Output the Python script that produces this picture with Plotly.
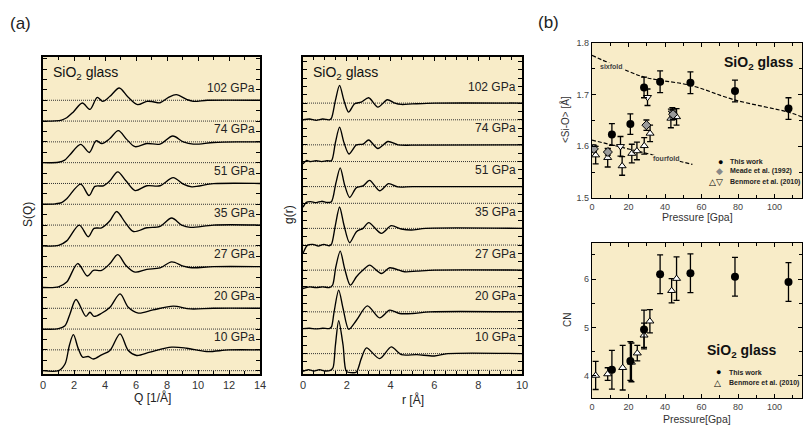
import plotly.graph_objects as go

# ---------------- data ----------------
pressures = ["10 GPa", "20 GPa", "27 GPa", "35 GPa", "51 GPa", "74 GPa", "102 GPa"]

# S(Q) curves (Q in 1/Å)
sq_q = {
    "10 GPa": [0, 1.0, 1.42, 1.7, 1.96, 2.28, 2.56, 2.92, 3.25, 3.78, 4.32, 4.97, 5.5, 6.04, 6.9, 8.3, 9.27, 10.56, 12, 14],
    "20 GPa": [0, 1.0, 1.42, 1.74, 2.13, 2.77, 3.03, 3.29, 3.78, 4.32, 4.97, 5.5, 6.15, 7.1, 8.4, 9.5, 11, 14],
    "27 GPa": [0, 1.0, 1.53, 2.24, 2.86, 3.25, 3.78, 4.32, 4.82, 5.35, 5.94, 6.7, 7.55, 8.3, 9.05, 9.6, 11, 14],
    "35 GPa": [0, 1.0, 1.53, 2.34, 2.92, 3.29, 3.78, 4.32, 4.75, 5.3, 5.83, 6.7, 7.55, 8.3, 8.95, 9.5, 11, 14],
    "51 GPa": [0, 0.8, 1.2, 1.53, 2.43, 2.97, 3.35, 3.9, 4.32, 4.82, 5.35, 5.94, 6.7, 7.55, 8.4, 9.05, 9.6, 11, 14],
    "74 GPa": [0, 1.0, 1.4, 1.74, 2.43, 2.99, 3.42, 3.8, 4.3, 4.86, 5.4, 5.94, 6.7, 7.55, 8.37, 9.05, 9.7, 11, 12.5, 14],
    "102 GPa": [0, 0.8, 1.2, 1.53, 1.96, 2.54, 3.03, 3.5, 3.85, 4.32, 4.92, 5.5, 6.1, 6.7, 7.1, 7.55, 8.1, 8.6, 9.3, 9.7, 10.6, 12, 14],
}
sq_s = {
    "10 GPa": [0, 0.0, 0.32, 1.21, 1.73, 1.05, 0.65, 0.68, 0.56, 0.76, 0.97, 1.77, 0.97, 0.73, 0.89, 1.13, 1.08, 0.92, 1.0, 1.0],
    "20 GPa": [0, 0.02, 0.16, 0.73, 1.42, 0.61, 0.81, 0.61, 0.76, 1.05, 1.69, 1.05, 0.77, 0.92, 1.10, 0.97, 1.0, 1.0],
    "27 GPa": [0, 0.03, 0.26, 1.15, 0.55, 0.82, 0.82, 1.15, 1.58, 1.06, 0.74, 0.87, 0.94, 1.23, 1.03, 0.95, 1.0, 1.0],
    "35 GPa": [0, 0.02, 0.24, 1.0, 0.44, 0.84, 0.87, 1.21, 1.65, 1.13, 0.69, 0.87, 0.94, 1.34, 1.0, 0.89, 1.0, 1.0],
    "51 GPa": [0, 0.02, 0.08, 0.27, 0.97, 0.42, 0.86, 0.89, 1.13, 1.56, 1.13, 0.66, 0.89, 0.89, 1.28, 0.97, 0.84, 0.99, 1.0],
    "74 GPa": [0, 0.02, 0.12, 0.38, 0.88, 0.49, 1.05, 0.92, 1.15, 1.54, 1.12, 0.77, 0.92, 0.89, 1.28, 1.0, 0.89, 0.97, 1.0, 1.0],
    "102 GPa": [0, 0.01, 0.05, 0.16, 0.44, 0.87, 0.56, 1.14, 0.95, 1.19, 1.59, 1.14, 0.79, 0.95, 0.93, 0.88, 1.14, 1.27, 1.03, 0.95, 1.0, 1.01, 1.0],
}

# g(r) curves (r in Å)
gr_r = {
    "10 GPa": [0, 0.25, 0.5, 0.75, 1.0, 1.25, 1.37, 1.48, 1.63, 1.83, 1.98, 2.2, 2.44, 2.66, 2.9, 3.5, 4.03, 4.49, 5.2, 6.0, 6.6, 10],
    "20 GPa": [0, 0.3, 0.6, 0.9, 1.2, 1.3, 1.42, 1.63, 1.83, 2.09, 2.44, 2.94, 3.5, 3.96, 4.41, 5.0, 5.8, 10],
    "27 GPa": [0, 0.3, 0.6, 0.9, 1.2, 1.35, 1.5, 1.7, 1.9, 2.16, 2.44, 2.74, 3.04, 3.58, 3.96, 4.64, 5.2, 6.0, 10],
    "35 GPa": [0, 0.2, 0.45, 0.7, 0.95, 1.2, 1.3, 1.48, 1.67, 1.87, 2.13, 2.44, 2.74, 3.0, 3.58, 4.03, 4.49, 4.95, 5.6, 10],
    "51 GPa": [0, 0.15, 0.35, 0.6, 0.85, 1.1, 1.3, 1.5, 1.7, 1.9, 2.13, 2.44, 2.74, 3.04, 3.5, 3.91, 4.34, 5.0, 10],
    "74 GPa": [0, 0.15, 0.35, 0.6, 0.85, 1.1, 1.3, 1.48, 1.67, 1.87, 2.1, 2.44, 2.74, 3.0, 3.42, 3.88, 4.34, 5.0, 10],
    "102 GPa": [0, 0.3, 0.6, 0.9, 1.2, 1.3, 1.48, 1.67, 1.87, 2.08, 2.36, 2.66, 3.0, 3.42, 3.85, 4.19, 4.49, 5.0, 6.0, 10],
}
gr_g = {
    "10 GPa": [-0.06, 0.04, -0.04, 0.04, -0.04, 0.0, 0.15, 1.5, 2.97, 1.5, -0.06, -0.14, -0.1, 0.7, 1.34, 0.7, 1.4, 0.94, 0.94, 0.86, 1.0, 1.0],
    "20 GPa": [0, 0.02, -0.02, 0.02, 0.0, 0.1, 1.0, 2.3, 1.2, -0.04, 0.5, 1.36, 0.64, 1.1, 0.9, 0.9, 1.0, 1.0],
    "27 GPa": [-0.1, 0.0, -0.05, 0.0, -0.05, 0.1, 1.2, 2.14, 1.1, 0.1, 0.6, 1.0, 1.3, 0.8, 1.14, 0.9, 0.94, 1.0, 1.0],
    "35 GPa": [-0.5, -0.02, 0.04, -0.06, 0.04, -0.04, 0.05, 1.2, 2.28, 1.2, 0.14, 0.8, 1.0, 1.34, 0.7, 1.16, 0.96, 0.9, 1.0, 1.0],
    "51 GPa": [-0.24, 0.06, 0.1, 0.04, 0.12, 0.05, 0.1, 1.2, 2.12, 1.1, 0.35, 0.94, 1.04, 1.37, 0.75, 1.18, 0.98, 1.0, 1.0],
    "74 GPa": [-0.14, 0.06, 0.0, 0.05, 0.0, 0.05, 0.05, 1.14, 2.06, 1.14, 0.45, 1.0, 1.04, 1.29, 0.78, 1.2, 1.0, 0.98, 1.0],
    "102 GPa": [0, 0.05, -0.03, 0.05, 0.0, 0.1, 1.16, 2.06, 1.16, 0.46, 0.96, 1.06, 1.32, 0.76, 1.2, 1.0, 0.92, 0.95, 1.0, 1.0],
}
sq_offset_step = 2.0
gr_offset_step = 2.5

# <Si-O> vs pressure
this_p = [10.9, 21.0, 28.5, 37.3, 53.9, 78.3, 107.6]
this_sio = [1.623, 1.643, 1.714, 1.725, 1.723, 1.707, 1.673]
this_sio_err = [0.021, 0.02, 0.02, 0.021, 0.021, 0.021, 0.021]
meade_p = [1.0, 8.7, 29.8, 44.4]
meade_sio = [1.595, 1.589, 1.641, 1.662]
meade_err = [0.006, 0.006, 0.01, 0.01]
benm_up_p = [2.0, 8.6, 16.5, 21.8, 24.6, 28.6, 31.8, 43.2, 46.3]
benm_up_sio = [1.583, 1.578, 1.562, 1.586, 1.591, 1.601, 1.625, 1.654, 1.657]
benm_up_err = [0.017, 0.018, 0.018, 0.018, 0.017, 0.016, 0.016, 0.018, 0.016]
benm_dn_p = [0.8, 15.6, 30.4, 44.0]
benm_dn_sio = [1.597, 1.600, 1.695, 1.665]
benm_dn_err = [0.006, 0.019, 0.016, 0.01]
sixfold_p = [0, 20, 28.5, 37, 54, 78, 107.6, 115]
sixfold_sio = [1.776, 1.745, 1.734, 1.728, 1.718, 1.690, 1.666, 1.657]
fourfold_p = [0, 55]
fourfold_sio = [1.612, 1.565]

# CN vs pressure
this_cn = [4.13, 4.31, 4.96, 6.10, 6.12, 6.05, 5.94]
this_cn_err = [0.4, 0.4, 0.4, 0.4, 0.4, 0.4, 0.4]
benm_cn_p = [2.0, 8.6, 16.8, 21.6, 24.8, 28.5, 31.7, 43.6, 46.3]
benm_cn = [4.01, 4.04, 4.17, 4.28, 4.47, 4.84, 5.13, 5.76, 6.01]
benm_cn_err = [0.29, 0.13, 0.46, 0.4, 0.16, 0.25, 0.24, 0.25, 0.45]

# ---------------- figure ----------------
BG = "#F8ECC8"
FONT = "Arial, Liberation Sans, Helvetica, sans-serif"
W, H = 805, 427

def dx(a, b):
    return [a / W, b / W]

def dy(top, bottom):
    return [(H - bottom) / H, (H - top) / H]

fig = go.Figure()

DOT = dict(color="#333", width=1, dash="1px,1px")
# left panel: S(Q)
for i, p in enumerate(pressures):
    off = i * sq_offset_step
    for lvl in (0, 1):
        fig.add_trace(go.Scatter(x=[0, 14], y=[off + lvl, off + lvl], mode="lines", line=DOT,
                                 xaxis="x", yaxis="y", showlegend=False, hoverinfo="skip"))
    fig.add_trace(go.Scatter(x=sq_q[p], y=[v + off for v in sq_s[p]], mode="lines",
                             line=dict(color="black", width=1.35, shape="spline", smoothing=0.9),
                             xaxis="x", yaxis="y", showlegend=False))
# middle panel: g(r)
for i, p in enumerate(pressures):
    off = i * gr_offset_step
    for lvl in (0, 1):
        fig.add_trace(go.Scatter(x=[0, 10], y=[off + lvl, off + lvl], mode="lines", line=DOT,
                                 xaxis="x2", yaxis="y2", showlegend=False, hoverinfo="skip"))
    fig.add_trace(go.Scatter(x=gr_r[p], y=[v + off for v in gr_g[p]], mode="lines",
                             line=dict(color="black", width=1.35, shape="spline", smoothing=0.8),
                             xaxis="x2", yaxis="y2", showlegend=False))

# top right: <Si-O>
fig.add_trace(go.Scatter(x=sixfold_p, y=sixfold_sio, mode="lines",
                         line=dict(color="black", width=1.2, dash="4px,2px", shape="spline"),
                         xaxis="x3", yaxis="y3", showlegend=False))
fig.add_trace(go.Scatter(x=fourfold_p, y=fourfold_sio, mode="lines",
                         line=dict(color="black", width=1.2, dash="4px,2px"),
                         xaxis="x3", yaxis="y3", showlegend=False))
errstyle = dict(type="data", color="black", thickness=1.3, width=3)
fig.add_trace(go.Scatter(x=benm_up_p, y=benm_up_sio, mode="markers",
                         error_y=dict(array=benm_up_err, **errstyle),
                         marker=dict(symbol="triangle-up", size=7, color="white", line=dict(color="black", width=1)),
                         xaxis="x3", yaxis="y3", showlegend=False))
fig.add_trace(go.Scatter(x=benm_dn_p, y=benm_dn_sio, mode="markers",
                         error_y=dict(array=benm_dn_err, **errstyle),
                         marker=dict(symbol="triangle-down", size=7, color="white", line=dict(color="black", width=1)),
                         xaxis="x3", yaxis="y3", showlegend=False))
fig.add_trace(go.Scatter(x=meade_p, y=meade_sio, mode="markers",
                         error_y=dict(array=meade_err, **errstyle),
                         marker=dict(symbol="diamond", size=7, color="#9a9a9a", line=dict(color="black", width=1)),
                         xaxis="x3", yaxis="y3", showlegend=False))
fig.add_trace(go.Scatter(x=this_p, y=this_sio, mode="markers",
                         error_y=dict(array=this_sio_err, **errstyle),
                         marker=dict(symbol="circle", size=8, color="black"),
                         xaxis="x3", yaxis="y3", showlegend=False))

# bottom right: CN
fig.add_trace(go.Scatter(x=benm_cn_p, y=benm_cn, mode="markers",
                         error_y=dict(array=benm_cn_err, **errstyle),
                         marker=dict(symbol="triangle-up", size=7, color="white", line=dict(color="black", width=1)),
                         xaxis="x4", yaxis="y4", showlegend=False))
fig.add_trace(go.Scatter(x=this_p, y=this_cn, mode="markers",
                         error_y=dict(array=this_cn_err, **errstyle),
                         marker=dict(symbol="circle", size=8, color="black"),
                         xaxis="x4", yaxis="y4", showlegend=False))

left_common = dict(showline=True, linecolor="black", linewidth=1.8, mirror="allticks",
                   ticks="inside", ticklen=4, tickwidth=1, tickcolor="black",
                   showgrid=False, zeroline=False)
right_common = dict(showline=True, linecolor="black", linewidth=1.2, mirror="allticks",
                    ticks="inside", ticklen=4, tickwidth=1, tickcolor="black",
                    showgrid=False, zeroline=False,
                    tickfont=dict(size=9, color="#444", family=FONT))

fig.update_layout(
    width=W, height=H, margin=dict(l=0, r=0, t=0, b=0, autoexpand=False),
    paper_bgcolor="white", plot_bgcolor=BG,
    font=dict(family=FONT, color="#222"),
    xaxis=dict(domain=dx(43, 260), range=[0, 14], dtick=2, tick0=0,
               minor=dict(dtick=1, ticks="inside", ticklen=3, tickcolor="black"),
               tickfont=dict(size=11, color="#333"), anchor="y", **left_common),
    yaxis=dict(domain=dy(57, 374), range=[-0.16, 15.08], dtick=0.5, tick0=0,
               showticklabels=False, anchor="x", **left_common),
    xaxis2=dict(domain=dx(303, 522), range=[0, 10], dtick=2, tick0=0,
                minor=dict(dtick=0.5, ticks="inside", ticklen=3, tickcolor="black"),
                tickfont=dict(size=11, color="#333"), anchor="y2", **left_common),
    yaxis2=dict(domain=dy(57, 374), range=[-0.22, 18.76], dtick=0.5, tick0=0,
                showticklabels=False, anchor="x2", **left_common),
    xaxis3=dict(domain=dx(592, 802), range=[0, 115], dtick=20, tick0=0,
                minor=dict(dtick=10, ticks="inside", ticklen=3, tickcolor="black"),
                anchor="y3", **right_common),
    yaxis3=dict(domain=dy(43, 198), range=[1.5, 1.8], dtick=0.1, tick0=1.5, tickformat=".1f",
                minor=dict(dtick=0.05, ticks="inside", ticklen=3, tickcolor="black"),
                anchor="x3", **right_common),
    xaxis4=dict(domain=dx(592, 802), range=[0, 115], dtick=20, tick0=0,
                minor=dict(dtick=10, ticks="inside", ticklen=3, tickcolor="black"),
                anchor="y4", **right_common),
    yaxis4=dict(domain=dy(243, 398), range=[3.545, 6.745], dtick=1, tick0=4,
                minor=dict(dtick=0.5, ticks="inside", ticklen=3, tickcolor="black"),
                anchor="x4", **right_common),
)

ann = []
def A(**k):
    k.setdefault("xanchor", "center")
    k.setdefault("yanchor", "middle")
    k.setdefault("showarrow", False)
    ann.append(k)

# panel letters
A(text="(a)", x=8 / W, y=1 - 24 / H, xref="paper", yref="paper", xanchor="left",
  font=dict(size=17, color="#222"))
A(text="(b)", x=536 / W, y=1 - 22 / H, xref="paper", yref="paper", xanchor="left",
  font=dict(size=17, color="#222"))

# axis titles left / middle
A(text="S(Q)", x=28 / W, y=1 - 215 / H, xref="paper", yref="paper", textangle=-90,
  font=dict(size=12, color="#222"))
A(text="g(r)", x=289 / W, y=1 - 215 / H, xref="paper", yref="paper", textangle=-90,
  font=dict(size=12, color="#222"))
A(text="Q [1/Å]", x=152 / W, y=1 - 397 / H, xref="paper", yref="paper",
  font=dict(size=12, color="#222"))
A(text="r [Å]", x=413 / W, y=1 - 399 / H, xref="paper", yref="paper",
  font=dict(size=12, color="#222"))

# SiO2 glass labels in left panels
A(text="SiO<sub>2</sub> glass", x=0.035, y=0.985, xref="x domain", yref="y domain",
  xanchor="left", yanchor="top", font=dict(size=14, color="#111"))
A(text="SiO<sub>2</sub> glass", x=0.035, y=0.985, xref="x2 domain", yref="y2 domain",
  xanchor="left", yanchor="top", font=dict(size=14, color="#111"))

# pressure labels
for i, p in enumerate(pressures):
    A(text=p, x=13.8, y=i * sq_offset_step + 1.6, xref="x", yref="y", xanchor="right",
      font=dict(size=12, color="#222"))
    A(text=p, x=9.8, y=i * gr_offset_step + 1.98, xref="x2", yref="y2", xanchor="right",
      font=dict(size=12, color="#222"))

# right panel titles
A(text="&lt;Si-O&gt; [Å]", x=565 / W, y=1 - 120 / H, xref="paper", yref="paper", textangle=-90,
  font=dict(size=10, color="#333"))
A(text="CN", x=567 / W, y=1 - 320 / H, xref="paper", yref="paper", textangle=-90,
  font=dict(size=10, color="#333"))
A(text="Pressure [Gpa]", x=697 / W, y=1 - 217 / H, xref="paper", yref="paper",
  font=dict(size=10.5, color="#333"))
A(text="Pressure[Gpa]", x=697 / W, y=1 - 419 / H, xref="paper", yref="paper",
  font=dict(size=10.5, color="#333"))

# SiO2 glass in right panels
A(text="<b>SiO<sub>2</sub> glass</b>", x=758 / W, y=1 - 63 / H, xref="paper", yref="paper",
  font=dict(size=14, color="#111"))
A(text="<b>SiO<sub>2</sub> glass</b>", x=741 / W, y=1 - 351 / H, xref="paper", yref="paper",
  font=dict(size=14, color="#111"))

# sixfold / fourfold
A(text="<b>sixfold</b>", x=10.9, y=1.754, xref="x3", yref="y3",
  font=dict(size=7, color="#444"), bgcolor=BG, borderpad=0)
A(text="<b>fourfold</b>", x=40.5, y=1.576, xref="x3", yref="y3",
  font=dict(size=7, color="#444"), bgcolor=BG, borderpad=0)

# legend-like text
leg_font = dict(size=7, color="#222")
sym_font = dict(size=9, color="black")
rows_top = [(1.570, "●", "This work"), (1.552, "<span style='color:#888'>◆</span>", "Meade et al. (1992)"),
            (1.531, "△▽", "Benmore et al. (2010)")]
for yv, sym, txt in rows_top:
    A(text=sym, x=72.8, y=yv, xref="x3", yref="y3", xanchor="right", font=sym_font)
    A(text="<b>" + txt + "</b>", x=74.5, y=yv, xref="x3", yref="y3", xanchor="left", font=leg_font)
rows_bot = [(4.08, "●", "This work"), (3.85, "△", "Benmore et al. (2010)")]
for yv, sym, txt in rows_bot:
    A(text=sym, x=71.5, y=yv, xref="x4", yref="y4", xanchor="right", font=sym_font)
    A(text="<b>" + txt + "</b>", x=73.8, y=yv, xref="x4", yref="y4", xanchor="left", font=leg_font)

fig.update_layout(annotations=ann)
fig.write_html("out.html", config={"displayModeBar": False},
               post_script="document.body.style.margin='0px';document.body.style.padding='0px';")
